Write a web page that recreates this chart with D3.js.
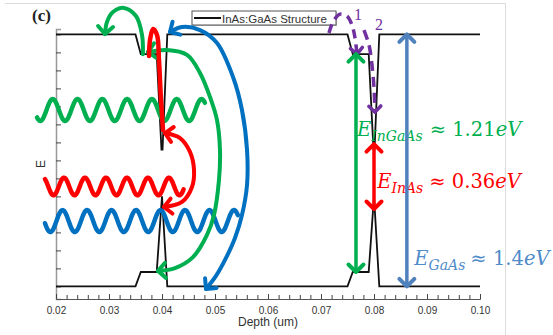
<!DOCTYPE html>
<html><head><meta charset="utf-8">
<script src="https://cdn.jsdelivr.net/npm/d3@7"></script>
<style>body{margin:0;background:#fff}svg{display:block}</style>
</head><body>
<svg id="chart" width="553" height="335"></svg>
<script>
// Band edges of the InAs:GaAs structure (depth in um, energy in eV)
const cbDepth  = [0.020, 0.035, 0.036, 0.039, 0.0399, 0.0401, 0.041, 0.075, 0.076, 0.079, 0.0799, 0.0801, 0.081, 0.100];
const cbEnergy = [1.40, 1.40, 1.29, 1.29, 0.76, 0.76, 1.40, 1.40, 1.29, 1.29, 0.76, 0.76, 1.40, 1.40];
const vbDepth  = [0.020, 0.035, 0.036, 0.039, 0.040, 0.041, 0.075, 0.076, 0.079, 0.080, 0.081, 0.100];
const vbEnergy = [0.00, 0.00, 0.08, 0.08, 0.50, 0.00, 0.00, 0.08, 0.08, 0.50, 0.00, 0.00];

// Axis ticks
const xTickLabels = [0.02, 0.03, 0.04, 0.05, 0.06, 0.07, 0.08, 0.09, 0.10];
const yTicks = [0.0, 0.1, 0.2, 0.3, 0.4, 0.5, 0.6, 0.7, 0.8, 0.9, 1.0, 1.1, 1.2, 1.3, 1.4];

// Band gaps marked on the right-hand structure
const gapNames  = ["InGaAs", "InAs", "GaAs"];
const gapValues = [1.21, 0.36, 1.4];
const gapTop    = [1.29, 0.79, 1.40];
const gapDepth  = [0.0766, 0.0800, 0.0862];
const gapColors = ["#00b050", "#ff0000", "#4f81bd"];
const gapTextColors = ["#00b050", "#ff0000", "#4f8bc9"];
const gapLabelDepth  = [0.0768, 0.0806, 0.0876];
const gapLabelEnergy = [0.836, 0.547, 0.119];
const gapLabelGap    = [7, 6, 5];

// Photons: [start depth, end depth, centre energy, amplitude, wavelength, crest depth]
const photonColors = ["#00b050", "#ff0000", "#0070c0"];
const photonStart  = [0.01642, 0.01792, 0.01792];
const photonEnd    = [0.04811, 0.04415, 0.05434];
const photonCentre = [0.980, 0.555, 0.363];
const photonAmp    = [0.061, 0.049, 0.061];
const photonWave   = [0.00468, 0.00396, 0.00462];
const photonCrest  = [0.01938, 0.02151, 0.03972];

// Carrier transitions on the left-hand structure
const arcGreenSmall = [[0.0364,1.29],[0.03623,1.397],[0.03509,1.502],[0.03283,1.547],[0.03075,1.524],[0.02962,1.469],[0.02925,1.402]];
const arcGreenBig = [[0.03736,1.302],[0.04094,1.313],[0.04472,1.286],[0.04717,1.186],[0.04906,1.052],[0.05038,0.924],[0.05094,0.758],[0.05075,0.591],[0.04981,0.397],[0.04849,0.286],[0.04585,0.163],[0.04245,0.102],[0.03925,0.086]];
const arcBlue = [[0.04151,1.413],[0.04377,1.441],[0.04717,1.424],[0.05038,1.352],[0.05340,1.163],[0.05509,0.980],[0.05604,0.758],[0.05604,0.563],[0.05509,0.397],[0.05377,0.269],[0.05208,0.158],[0.05019,0.058],[0.04830,-0.014]];
const loopRed = [[0.03755,1.280],[0.03774,1.369],[0.03830,1.430],[0.03906,1.397],[0.03943,1.258],[0.03981,1.036],[0.04019,0.869]];
const arcRed = [[0.04057,0.852],[0.04340,0.824],[0.04528,0.747],[0.04604,0.647],[0.04566,0.552],[0.04377,0.469],[0.04038,0.441]];

// Relaxation paths on the right-hand structure
const relax1 = [[0.07151,1.408],[0.07226,1.469],[0.07358,1.513],[0.07491,1.502],[0.07585,1.452],[0.07642,1.380],[0.07679,1.291]];
const relax2 = [[0.07811,1.424],[0.07906,1.341],[0.07962,1.230],[0.08000,1.102],[0.08019,0.968]];
const relaxLabels = ["1", "2"];
const relaxLabelPos = [[0.07623,1.480],[0.08019,1.424]];

const svg = d3.select("#chart");
const xScale = d3.scaleLinear().domain([0.02, 0.10]).range([56, 480]);
const yScale = d3.scaleLinear().domain([-0.07, 1.43]).range([299, 29]);

// page frame
svg.append("path").attr("d", "M5,3.5H505.5V335").attr("fill", "none").attr("stroke", "#dcdcdc").attr("stroke-width", 1);

const defs = svg.append("defs");
function chevron(id, color, arm, width) {
  defs.append("marker").attr("id", id)
    .attr("viewBox", "-14 -14 28 28").attr("refX", 0).attr("refY", 0)
    .attr("markerUnits", "userSpaceOnUse").attr("markerWidth", 28).attr("markerHeight", 28)
    .attr("orient", "auto-start-reverse").style("overflow", "visible")
    .append("path").attr("d", `M${-arm},${-arm}L0,0L${-arm},${arm}`)
    .attr("fill", "none").attr("stroke", color).attr("stroke-width", width)
    .attr("stroke-linecap", "round").attr("stroke-linejoin", "round");
}
chevron("mGreen", "#00b050", 7.5, 4);
chevron("mRed", "#ff0000", 7.5, 4);
chevron("mBlue", "#0070c0", 7.5, 4);
chevron("mPurple", "#7030a0", 6, 3.5);
gapColors.forEach((c, i) => chevron("mGap" + i, c, 7.5, 4));

// axes
const yAxis = svg.append("g").attr("transform", "translate(56,0)")
  .call(d3.axisLeft(yScale).tickValues(yTicks).tickSize(-5).tickFormat(""));
yAxis.select(".domain").attr("stroke", "#999").attr("stroke-width", 1.5);
yAxis.selectAll(".tick line").attr("stroke", "#444");

const xAxis = svg.append("g").attr("transform", "translate(0,299)");
xAxis.call(d3.axisBottom(xScale).tickValues(xScale.ticks(40)).tickSize(-4).tickFormat(""));
xAxis.select(".domain").attr("stroke", "#555");
xAxis.selectAll(".tick line").attr("stroke", "#444");
const xLab = svg.append("g").attr("transform", "translate(0,299)")
  .call(d3.axisBottom(xScale).tickValues(xTickLabels).tickSize(-5).tickPadding(8).tickFormat(d3.format(".2f")));
xLab.select(".domain").remove();
xLab.selectAll(".tick line").attr("stroke", "#444");
xLab.selectAll("text").attr("fill", "#333").style("font-family", "Liberation Sans, Arial, sans-serif").style("font-size", "10px");

svg.append("text").attr("x", 268).attr("y", 326).attr("text-anchor", "middle")
  .attr("fill", "#333").style("font-family", "Liberation Sans, Arial, sans-serif").style("font-size", "12px").text("Depth (um)");
svg.append("text").attr("transform", "translate(45,164) rotate(-90)").attr("text-anchor", "middle")
  .attr("fill", "#333").style("font-family", "Liberation Sans, Arial, sans-serif").style("font-size", "12px").text("E");

// band structure
const line = d3.line().x(d => xScale(d[0])).y(d => yScale(d[1]));
svg.append("path").attr("d", line(cbDepth.map((d, i) => [d, cbEnergy[i]])))
  .attr("fill", "none").attr("stroke", "#111").attr("stroke-width", 1.8);
svg.append("path").attr("d", line(vbDepth.map((d, i) => [d, vbEnergy[i]])))
  .attr("fill", "none").attr("stroke", "#111").attr("stroke-width", 1.8);

// legend
svg.append("rect").attr("x", 193).attr("y", 12).attr("width", 144).attr("height", 14).attr("fill", "#bbb");
svg.append("rect").attr("x", 192).attr("y", 11).attr("width", 144).attr("height", 14)
  .attr("fill", "#fff").attr("stroke", "#555").attr("stroke-width", 1);
svg.append("line").attr("x1", 194).attr("x2", 221).attr("y1", 18).attr("y2", 18).attr("stroke", "#111").attr("stroke-width", 2);
svg.append("text").attr("x", 222).attr("y", 22.5).attr("fill", "#333")
  .style("font-family", "Liberation Sans, Arial, sans-serif").style("font-size", "11.5px").text("InAs:GaAs Structure");

// panel tag
svg.append("text").attr("x", 32).attr("y", 21).attr("fill", "#222")
  .style("font-family", "Liberation Serif, Times New Roman, serif").style("font-weight", "bold").style("font-size", "17px").text("(c)");

// photons
photonColors.forEach((c, i) => {
  const pts = [];
  for (let d = photonStart[i]; d <= photonEnd[i] + 1e-9; d += 0.00008) {
    pts.push([d, photonCentre[i] + photonAmp[i] * Math.cos(2 * Math.PI * (d - photonCrest[i]) / photonWave[i])]);
  }
  svg.append("path").attr("d", d3.line().x(p => xScale(p[0])).y(p => yScale(p[1])).curve(d3.curveBasis)(pts))
    .attr("fill", "none").attr("stroke", c).attr("stroke-width", 4.5).attr("stroke-linecap", "round");
});

// transitions
const curve = d3.line().x(d => xScale(d[0])).y(d => yScale(d[1])).curve(d3.curveCatmullRom.alpha(0.5));
function arc(pts, color, marker, start, end, w) {
  const p = svg.append("path").attr("d", curve(pts)).attr("fill", "none").attr("stroke", color)
    .attr("stroke-width", w).attr("stroke-linecap", "round");
  if (start) p.attr("marker-start", `url(#${marker})`);
  if (end) p.attr("marker-end", `url(#${marker})`);
  return p;
}
arc(arcGreenSmall, "#00b050", "mGreen", false, true, 4);
arc(arcGreenBig, "#00b050", "mGreen", true, true, 4);
arc(arcBlue, "#0070c0", "mBlue", true, true, 4);
arc(loopRed, "#ff0000", "mRed", false, false, 4.5);
arc(arcRed, "#ff0000", "mRed", true, true, 4);

// relaxation steps
arc(relax1, "#7030a0", "mPurple", false, true, 3.5).attr("stroke-dasharray", "9,6").attr("stroke-linecap", "butt");
arc(relax2, "#7030a0", "mPurple", false, true, 3.5).attr("stroke-dasharray", "10,6").attr("stroke-linecap", "butt");
relaxLabels.forEach((t, i) => {
  svg.append("text").attr("x", xScale(relaxLabelPos[i][0])).attr("y", yScale(relaxLabelPos[i][1]))
    .attr("fill", "#7030a0").style("font-family", "Liberation Serif, serif").style("font-size", "16px").text(t);
});

// band-gap arrows and labels
gapNames.forEach((n, i) => {
  svg.append("line").attr("x1", xScale(gapDepth[i])).attr("x2", xScale(gapDepth[i]))
    .attr("y1", yScale(gapTop[i])).attr("y2", yScale(gapTop[i] - gapValues[i]))
    .attr("stroke", gapColors[i]).attr("stroke-width", 3.5)
    .attr("marker-start", `url(#mGap${i})`).attr("marker-end", `url(#mGap${i})`);
  const t = svg.append("text").attr("x", xScale(gapLabelDepth[i])).attr("y", yScale(gapLabelEnergy[i]))
    .attr("fill", gapTextColors[i]).style("font-family", "DejaVu Serif, serif").style("font-size", "19.5px");
  t.append("tspan").style("font-style", "italic").text("E");
  t.append("tspan").style("font-style", "italic").style("font-size", "14px").attr("dy", 5).text(n);
  t.append("tspan").attr("dy", -5).attr("dx", gapLabelGap[i]).text("\u2248 " + gapValues[i]);
  t.append("tspan").style("font-style", "italic").text("eV");
});
</script>
</body></html>
